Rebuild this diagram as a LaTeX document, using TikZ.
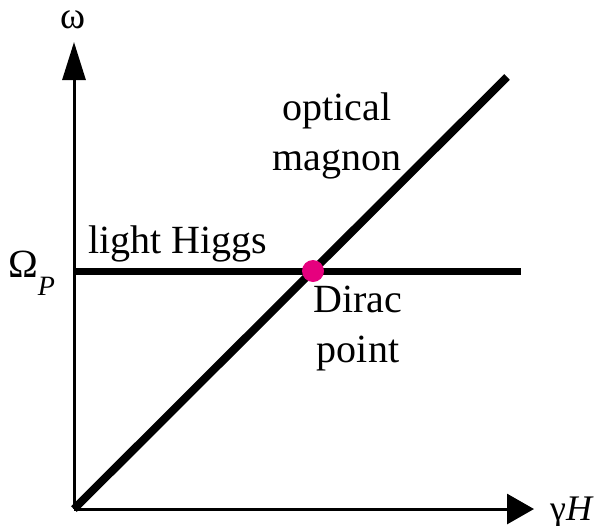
\documentclass[tikz,border=0pt]{standalone}
\usepackage{fontspec}
\setmainfont{Liberation Serif}
\usetikzlibrary{arrows.meta}
\definecolor{diracPink}{HTML}{E6007E}
\tikzset{label text/.style={inner sep=0pt, anchor=base}}

\begin{document}
\begin{tikzpicture}[x=1pt, y=-1pt, font=\fontsize{40}{50}\selectfont]
\useasboundingbox (0,0) rectangle (602,525);
\coordinate (O) at (74,509);
\coordinate (wtip) at (74,42);
\coordinate (htip) at (534,509);
\coordinate (hl) at (74,271);
\coordinate (hr) at (521,271);
\coordinate (mtop) at (507,77);
% axes
\draw[line width=3pt, -{Triangle[length=38pt,width=23pt]}] (O) -- (wtip);
\draw[line width=3pt, -{Triangle[length=27pt,width=30pt]}] (O) -- (htip);
\node[label text, font=\fontsize{38}{38}\selectfont, text height=17pt] (omega) at (73,28) {ω};
\node[label text, anchor=base west, font=\fontsize{36}{36}\selectfont] (gH) at (550,520) {γ\textit{H}};
% branches
\draw[line width=7pt] (hl) -- (hr);
\draw[line width=8pt] (O) -- (mtop);
\node[circle, fill=diracPink, minimum size=22pt, inner sep=0pt] (dirac) at (313,271) {};
\node[label text, anchor=base west] (OmP) at (8,277) {Ω\raisebox{-18pt}{\fontsize{28}{28}\selectfont\textit{P}}};
\node[label text, anchor=base west] (higgs) at (88,253) {light Higgs};
\node[label text, align=center] (magnon) at (337,170) {optical\\magnon};
\node[label text, align=center] (diracl) at (358,362) {Dirac\\point};
\end{tikzpicture}
\end{document}
